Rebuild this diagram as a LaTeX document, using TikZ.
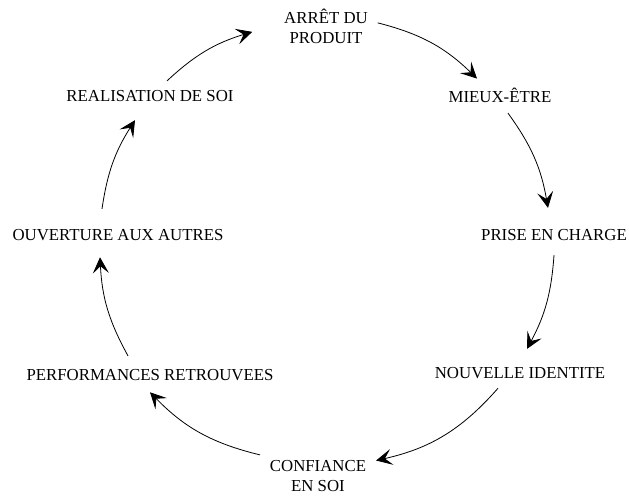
\documentclass[tikz,border=0pt]{standalone}
\usepackage{fontspec}
\setmainfont{Liberation Serif}
\usepackage{tikz}
\usetikzlibrary{arrows,arrows.meta,calc,positioning}

\tikzset{
  etape/.style={font=\fontsize{16.8}{20}\selectfont, align=center, inner sep=1pt, outer sep=9pt, anchor=base},
  fleche/.style={-{Stealth[length=16pt,width=16pt,inset=7pt]}, line width=0.8pt}
}

\begin{document}
\begin{tikzpicture}[x=1pt,y=-1pt]
\useasboundingbox[fill=white] (0,0) rectangle (629,500);
% les etapes
\node[etape] (arret) at (326,44) {ARRÊT DU\\PRODUIT};
\node[etape] (mieux) at (500,103) {MIEUX-ÊTRE};
\node[etape] (prise) at (554,240) {PRISE EN CHARGE};
\node[etape] (nouvelle) at (520,378) {NOUVELLE IDENTITE};
\node[etape] (confiance) at (318,491) {CONFIANCE\\EN SOI};
\node[etape] (perf) at (150,380) {PERFORMANCES RETROUVEES};
\node[etape] (ouverture) at (118,240) {OUVERTURE AUX AUTRES};
\node[etape] (realisation) at (150,102) {REALISATION DE SOI};
% le cycle
\draw[fleche] ([yshift=4pt]arret.east) to[bend left=15] ([xshift=-23pt]mieux.north);
\draw[fleche] ([xshift=8pt]mieux.south) to[bend left=13] ([xshift=-6pt,yshift=11pt]prise.north);
\draw[fleche] ([yshift=-5pt]prise.south) to[bend left=12] ([xshift=7pt,yshift=8pt]nouvelle.north);
\draw[fleche] ([xshift=-22pt]nouvelle.south) to[bend left=18] ([yshift=15pt]confiance.east);
\draw[fleche] ([yshift=-5pt]confiance.north west) to[bend left=16] ([yshift=-2pt]perf.south);
\draw[fleche] ([xshift=-22pt,yshift=3pt]perf.north) to[bend left=13] ([xshift=-18pt,yshift=-7pt]ouverture.south);
\draw[fleche] ([xshift=-16pt,yshift=10pt]ouverture.north) to[bend left=12] ([xshift=-15pt,yshift=-8pt]realisation.south);
\draw[fleche] ([xshift=17pt]realisation.north) to[bend left=13] ([xshift=-22pt,yshift=-5pt]arret.west);
\end{tikzpicture}
\end{document}
